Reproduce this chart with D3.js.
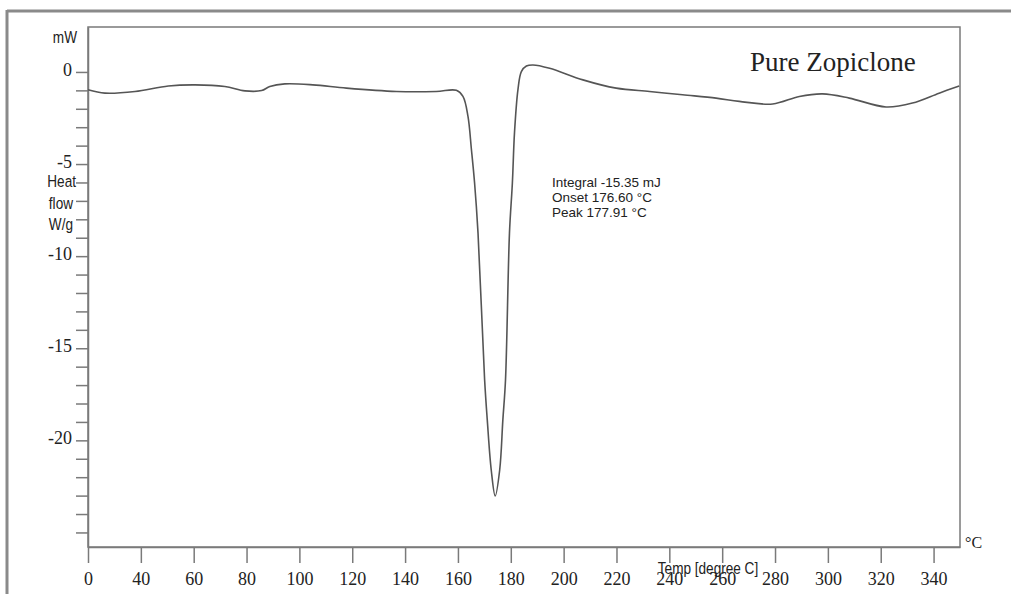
<!DOCTYPE html>
<html>
<head>
<meta charset="utf-8">
<script src="https://cdn.jsdelivr.net/npm/d3@7"></script>
<style>
  body { margin: 0; background: #fff; }
</style>
</head>
<body>
<div id="dsc-chart"></div>
<script>
// DSC thermogram
var temps = [20, 26.4, 37.8, 50.4, 60.5, 71.8, 79.4, 85.7, 88.8, 94.5, 105.1, 117.8, 136.7, 151.8, 159.4,
  161.9, 163.8, 165.1, 166.3, 167.6, 170.1, 171.1, 172.6, 174.1, 175.8, 177.0, 178.0, 179.5, 180.6, 181.4,
  182.7, 184.0, 185.9, 188.4, 194.7, 207.3, 219.9, 232.5, 245.0, 257.7, 266.5, 279.1, 289.2, 298.0, 308.1,
  322.0, 332.0, 342.1, 349.7];
var heatFlow = [-0.97, -1.15, -1.06, -0.76, -0.70, -0.79, -1.03, -1.01, -0.79, -0.65, -0.70, -0.88, -1.06, -1.06, -1.00,
  -1.33, -2.41, -4.21, -6.03, -8.75, -16.72, -18.89, -21.61, -23.02, -21.61, -18.89, -16.72, -8.75, -6.03, -3.31,
  -0.97, 0.02, 0.32, 0.38, 0.2, -0.43, -0.88, -1.06, -1.24, -1.42, -1.60, -1.74, -1.33, -1.19, -1.42,
  -1.90, -1.69, -1.15, -0.76];

var xTickValues = [20, 40, 60, 80, 100, 120, 140, 160, 180, 200, 220, 240, 260, 280, 300, 320, 340];
var xTickLabels = ["0", "40", "60", "80", "100", "120", "140", "160", "180", "200", "220", "240", "260", "280", "300", "320", "340"];
var yMinorTicks = d3.range(0, -26, -1);
var yLabelValues = [0, -5, -10, -15, -20];
var yLabels = ["0", "-5", "-10", "-15", "-20"];
var yUnitLines = ["Heat", "flow", "W/g"];
var infoLines = ["Integral -15.35 mJ", "Onset 176.60 \u00b0C", "Peak 177.91 \u00b0C"];
var sampleName = "Pure Zopiclone";

var width = 1011, height = 594;
var plot = { left: 88, right: 960, top: 27, bottom: 547 };
var frameColor = "#7a7a7a";

var svg = d3.select("#dsc-chart")
  .append("svg")
  .attr("width", width)
  .attr("height", height);

// outer page frame (top and left edge of the scan)
svg.append("line")
  .attr("x1", 7).attr("x2", width).attr("y1", 11).attr("y2", 11)
  .attr("stroke", "#8a8a8a").attr("stroke-width", 3);
svg.append("line")
  .attr("x1", 7).attr("x2", 7).attr("y1", 10).attr("y2", height)
  .attr("stroke", "#8a8a8a").attr("stroke-width", 3);

var x = d3.scaleLinear().domain([20, 350]).range([plot.left, plot.right]);
var y = d3.scaleLinear().domain([2.44, -25.79]).range([plot.top, plot.bottom]);

// narrow sans text, the scan uses a condensed face
function narrowText(px, py, str, anchor) {
  svg.append("text")
    .attr("transform", "translate(" + px + "," + py + ") scale(0.8,1)")
    .attr("text-anchor", anchor)
    .attr("fill", "#222")
    .attr("font-family", "Liberation Sans")
    .attr("font-size", "17px")
    .text(str);
}

// plot box
svg.append("rect")
  .attr("x", plot.left).attr("y", plot.top)
  .attr("width", plot.right - plot.left).attr("height", plot.bottom - plot.top)
  .attr("fill", "none")
  .attr("stroke", frameColor)
  .attr("stroke-width", 1.5);

// x axis
var xAxis = d3.axisBottom(x)
  .tickValues(xTickValues)
  .tickSize(16)
  .tickSizeOuter(0)
  .tickFormat(function (d, i) { return xTickLabels[i]; });

var gx = svg.append("g")
  .attr("transform", "translate(0," + plot.bottom + ")")
  .call(xAxis);
gx.select(".domain").attr("stroke", frameColor).attr("stroke-width", 1.5);
gx.selectAll(".tick line").attr("stroke", frameColor).attr("stroke-width", 1.5);
gx.selectAll(".tick text")
  .attr("y", 38)
  .attr("dy", 0)
  .attr("fill", "#222")
  .attr("font-family", "Liberation Serif")
  .attr("font-size", "18px");

// y axis, ticks every unit, labels every five
var yAxis = d3.axisLeft(y)
  .tickValues(yMinorTicks)
  .tickSize(12)
  .tickSizeOuter(0)
  .tickFormat("");

var gy = svg.append("g")
  .attr("transform", "translate(" + plot.left + ",0)")
  .call(yAxis);
gy.select(".domain").attr("stroke", frameColor).attr("stroke-width", 1.5);
gy.selectAll(".tick line").attr("stroke", frameColor).attr("stroke-width", 1.5);

svg.append("g")
  .selectAll("text")
  .data(yLabelValues)
  .enter()
  .append("text")
  .attr("x", 72)
  .attr("y", function (d) { return y(d) + 4; })
  .attr("text-anchor", "end")
  .attr("fill", "#222")
  .attr("font-family", "Liberation Serif")
  .attr("font-size", "18px")
  .text(function (d, i) { return yLabels[i]; });

yUnitLines.forEach(function (d, i) {
  narrowText(i == 0 ? 76 : 73, y(-6 - i * 1.15) + 5, d, "end");
});

narrowText(77, 43, "mW", "end");
narrowText(708, 574, "Temp [degree C]", "middle");

svg.append("text")
  .attr("x", 965).attr("y", 548)
  .attr("fill", "#222")
  .attr("font-family", "Liberation Serif")
  .attr("font-size", "16px")
  .text("\u00b0C");

// the curve
var line = d3.line()
  .x(function (d, i) { return x(temps[i]); })
  .y(function (d) { return y(d); })
  .curve(d3.curveCatmullRom.alpha(0.5));

svg.append("path")
  .datum(heatFlow)
  .attr("d", line)
  .attr("fill", "none")
  .attr("stroke", "#555")
  .attr("stroke-width", 1.6);

// annotations
svg.append("g")
  .selectAll("text")
  .data(infoLines)
  .enter()
  .append("text")
  .attr("x", 552)
  .attr("y", function (d, i) { return 187 + i * 15; })
  .attr("fill", "#222")
  .attr("font-family", "Liberation Sans")
  .attr("font-size", "13.5px")
  .text(function (d) { return d; });

svg.append("text")
  .attr("x", 750).attr("y", 71)
  .attr("fill", "#222")
  .attr("font-family", "Liberation Serif")
  .attr("font-size", "27px")
  .text(sampleName);
</script>
</body>
</html>
